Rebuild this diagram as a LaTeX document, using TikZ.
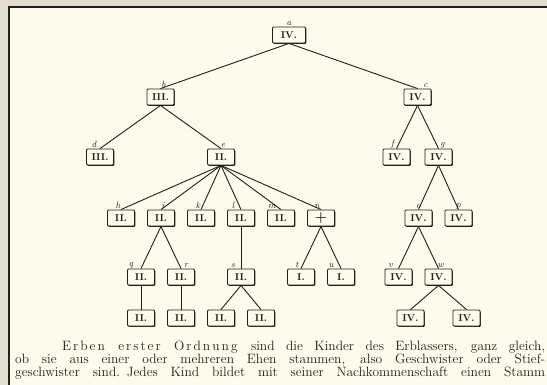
\documentclass[tikz,border=0pt]{standalone}
\usetikzlibrary{shadows}
\definecolor{paper}{RGB}{253,251,236}
\definecolor{rand}{RGB}{226,222,207}
\definecolor{ink}{RGB}{35,30,25}
\makeatletter
\newcommand\gesperrt[1]{\@tfor\gs@c:=#1\do{\gs@c\kern2pt}}
\makeatother
\newcommand\zeile[1]{\hbox to 530pt{\spaceskip=4pt plus 40pt\relax #1}}
\begin{document}
\begin{tikzpicture}[x=1pt,y=-1pt,
  level 1/.style={sibling distance=257pt,level distance=62pt},
  level 2/.style={sibling distance=121pt,level distance=60pt},
  level 3/.style={sibling distance=40pt,level distance=61pt},
  level 4/.style={sibling distance=40pt,level distance=59pt},
  level 5/.style={sibling distance=40pt,level distance=41pt},
  edge from parent/.style={draw=ink,line width=0.9pt},
  edge from parent path={(\tikzparentnode.south) -- (\tikzchildnode.north)},
  stamm/.style={draw=ink,fill=paper,line width=0.9pt,rounded corners=1pt,
    minimum width=27pt,minimum height=16pt,inner sep=1pt,text=ink,
    font=\bfseries,
    drop shadow={shadow xshift=0.8pt,shadow yshift=-0.9pt,fill=ink,opacity=1}},
  kz/.style={font=\small\itshape,inner sep=0.5pt,text=ink},
  label distance=0pt]
\useasboundingbox (0,0) rectangle (547,385);
\fill[rand] (0,0) rectangle (547,385);
\fill[paper] (9,7) rectangle (547,385);
\draw[ink,line width=1.3pt] (9,385) -- (9,7) -- (547,7);
\node[stamm,minimum width=33pt,label={[kz]above:a}] (a) at (289,35) {IV.}
  child {node[stamm,label={[kz,xshift=3pt]above:b}] (b) {III.}
    child {node[stamm,label={[kz,xshift=-6pt]above:d}] (d) {III.}}
    child {node[stamm,label={[kz,xshift=2pt]above:e}] (e) {II.}
      child {node[stamm,label={[kz,xshift=-3pt]above:h}] (h) {II.}}
      child {node[stamm,label={[kz,xshift=2pt]above:i}] (i) {II.}
        child {node[stamm,label={[kz,xshift=-10pt]above:q}] (q) {II.}
          child {node[stamm] (q1) {II.}}
        }
        child {node[stamm,label={[kz,xshift=5pt]above:r}] (r) {II.}
          child {node[stamm] (r1) {II.}}
        }
      }
      child {node[stamm,label={[kz,xshift=-3pt]above:k}] (k) {II.}}
      child {node[stamm,label={[kz,xshift=-8pt]above:l}] (l) {II.}
        child {node[stamm,label={[kz,xshift=-8pt]above:s}] (s) {II.}
          child {node[stamm] (s1) {II.}}
          child {node[stamm] (s2) {II.}}
        }
      }
      child {node[stamm,label={[kz,xshift=-9pt]above:m}] (m) {II.}}
      child {node[stamm,label={[kz,xshift=-4pt]above:n}] (n) {\Large +}
        child {node[stamm,label={[kz,xshift=-4pt]above:t}] (t) {I.}}
        child {node[stamm,label={[kz,xshift=-10pt]above:u}] (u) {I.}}
      }
    }
  }
  child {node[stamm,label={[kz,xshift=8pt]above:c}] (c) {IV.}
    child[sibling distance=42pt] {node[stamm,label={[kz,xshift=-4pt]above:f}] (f) {IV.}}
    child[sibling distance=42pt] {node[stamm,label={[kz,xshift=4pt]above:g}] (g) {IV.}
      child {node[stamm,label={[kz]above:o}] (o) {IV.}
        child {node[stamm,label={[kz,xshift=-8pt]above:v}] (v) {IV.}}
        child {node[stamm,label={[kz,xshift=2pt]above:w}] (w) {IV.}
          child[sibling distance=56pt] {node[stamm] (w1) {IV.}}
          child[sibling distance=56pt] {node[stamm] (w2) {IV.}}
        }
      }
      child {node[stamm,label={[kz]above:p}] (p) {IV.}}
    }
  };
\node[anchor=north west,inner sep=0pt,text width=530pt,text=ink,
  font=\fontsize{13.5}{12.8}\selectfont] (txt) at (15,341) {\noindent
  \zeile{\hspace*{47pt}\gesperrt{Erben} \gesperrt{erster} \gesperrt{Ordnung} sind die Kinder des Erblassers, ganz gleich,}
  \zeile{ob sie aus einer oder mehreren Ehen stammen, also Geschwister oder Stief-}
  \zeile{geschwister sind. Jedes Kind bildet mit seiner Nachkommenschaft einen Stamm}};
\end{tikzpicture}
\end{document}
